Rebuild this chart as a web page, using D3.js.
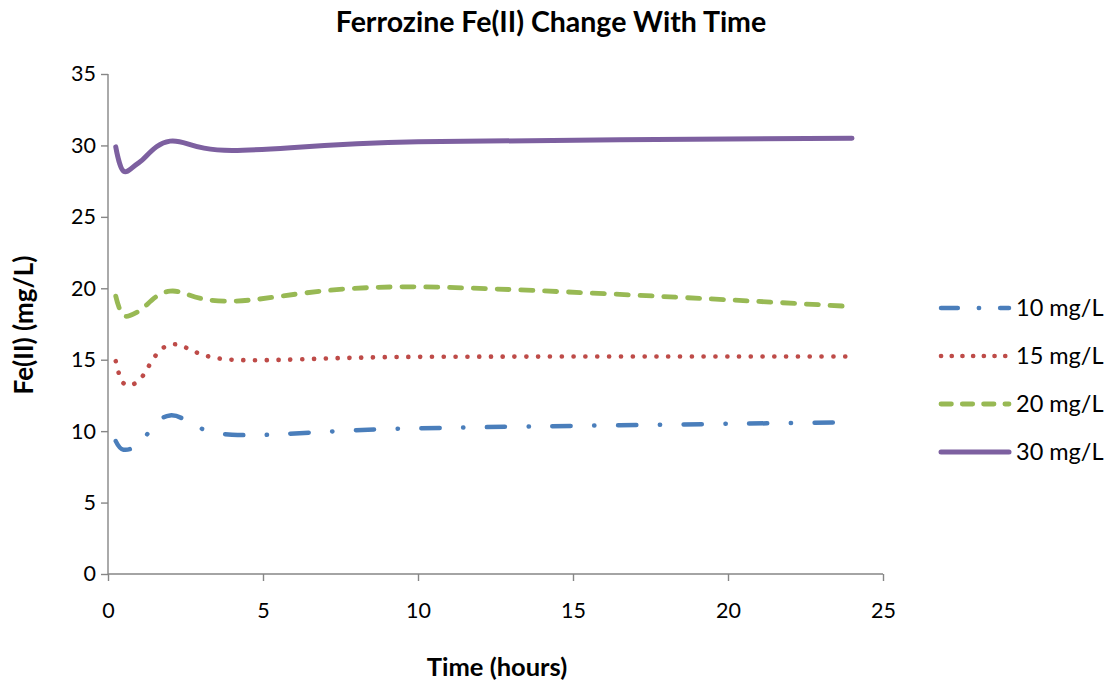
<!DOCTYPE html>
<html>
<head>
<meta charset="utf-8">
<script src="https://cdn.jsdelivr.net/npm/d3@7"></script>
<style>
  html, body { margin: 0; padding: 0; background: #fff; }
  svg { display: block; font-family: Lato, "Open Sans", sans-serif; }
</style>
</head>
<body>
<svg id="chart" width="1111" height="686"></svg>
<script>
// Sampling times (hours)
const times = [0.25, 0.5, 1, 2, 4, 10, 24];

// Measured Fe(II) (mg/L) for each starting concentration
const fe10 = [9.3, 8.7, 9.1, 11.1, 9.75, 10.2, 10.62];
const fe15 = [14.9, 13.35, 13.55, 16.05, 15.0, 15.2, 15.22];
const fe20 = [19.45, 18.1, 18.4, 19.8, 19.1, 20.1, 18.72];
const fe30 = [29.9, 28.2, 28.8, 30.3, 29.65, 30.25, 30.5];

const seriesNames = ["10 mg/L", "15 mg/L", "20 mg/L", "30 mg/L"];
const xTicks = [0, 5, 10, 15, 20, 25];
const yTicks = [0, 5, 10, 15, 20, 25, 30, 35];

const svg = d3.select("#chart");

const x = d3.scaleLinear().domain([0, 25]).range([108, 883]);
const y = d3.scaleLinear().domain([0, 35]).range([574, 74]);

const axisColor = "#868686";

// Axes
const yAxis = svg.append("g")
  .attr("transform", `translate(${x(0)},0)`)
  .call(d3.axisLeft(y).tickValues(yTicks).tickSize(7).tickPadding(5).tickFormat(d3.format("d")));
const xAxis = svg.append("g")
  .attr("transform", `translate(0,${y(0)})`)
  .call(d3.axisBottom(x).tickValues(xTicks).tickSize(7).tickPadding(22).tickFormat(d3.format("d")));

[yAxis, xAxis].forEach(g => {
  g.select(".domain").attr("stroke", axisColor).attr("stroke-width", 1.4);
  g.selectAll(".tick line").attr("stroke", axisColor).attr("stroke-width", 1.4);
  g.selectAll(".tick text")
    .attr("fill", "#000")
    .style("font-family", "Lato, sans-serif")
    .style("font-size", "21.5px");
});
// keep the axis domain without end caps
yAxis.select(".domain").attr("d", `M0,${y(35)}V${y(0)}`);
xAxis.select(".domain").attr("d", `M${x(0)},0H${x(25)}`);

// Series styling
const styles = [
  { color: "#4A7EBB", width: 4.5, dash: "18.2,23.5,0.3,23.5", legendDash: "16.8,21,0.3,21" },
  { color: "#BE4B48", width: 4.6, dash: "0.1,11.7", legendDash: "0.1,10.6" },
  { color: "#98B954", width: 4.8, dash: "12,11.8", legendDash: "10.4,10.9" },
  { color: "#7D60A0", width: 5, dash: null, legendDash: null }
];
const seriesValues = [fe10, fe15, fe20, fe30];

const line = d3.line()
  .x(d => x(d[0]))
  .y(d => y(d[1]))
  .curve(d3.curveCardinal.tension(0));

seriesValues.forEach((vals, i) => {
  const pts = times.map((t, k) => [t, vals[k]]);
  const p = svg.append("path")
    .datum(pts)
    .attr("d", line)
    .attr("fill", "none")
    .attr("stroke", styles[i].color)
    .attr("stroke-width", styles[i].width)
    .attr("stroke-linecap", "round")
    .attr("stroke-linejoin", "round");
  if (styles[i].dash) p.attr("stroke-dasharray", styles[i].dash);
});

// Legend
const legendY = [308, 356, 404, 452];
seriesNames.forEach((name, i) => {
  const g = svg.append("g");
  const l = g.append("line")
    .attr("x1", 941).attr("x2", 1009)
    .attr("y1", legendY[i]).attr("y2", legendY[i])
    .attr("stroke", styles[i].color)
    .attr("stroke-width", styles[i].width)
    .attr("stroke-linecap", "round");
  if (styles[i].legendDash) l.attr("stroke-dasharray", styles[i].legendDash);
  g.append("text")
    .attr("x", 1016).attr("y", legendY[i])
    .attr("dy", "0.36em")
    .style("font-size", "23.5px")
    .attr("fill", "#000")
    .text(name);
});

// Titles
svg.append("text")
  .attr("x", 551).attr("y", 32)
  .attr("text-anchor", "middle")
  .style("font-size", "28.5px").style("font-weight", "bold")
  .text("Ferrozine Fe(II) Change With Time");

svg.append("text")
  .attr("x", 497).attr("y", 676)
  .attr("text-anchor", "middle")
  .style("font-size", "25.5px").style("font-weight", "bold")
  .text("Time (hours)");

svg.append("text")
  .attr("transform", "translate(33,325) rotate(-90)")
  .attr("text-anchor", "middle")
  .style("font-size", "26px").style("font-weight", "bold")
  .text("Fe(II) (mg/L)");
</script>
</body>
</html>
